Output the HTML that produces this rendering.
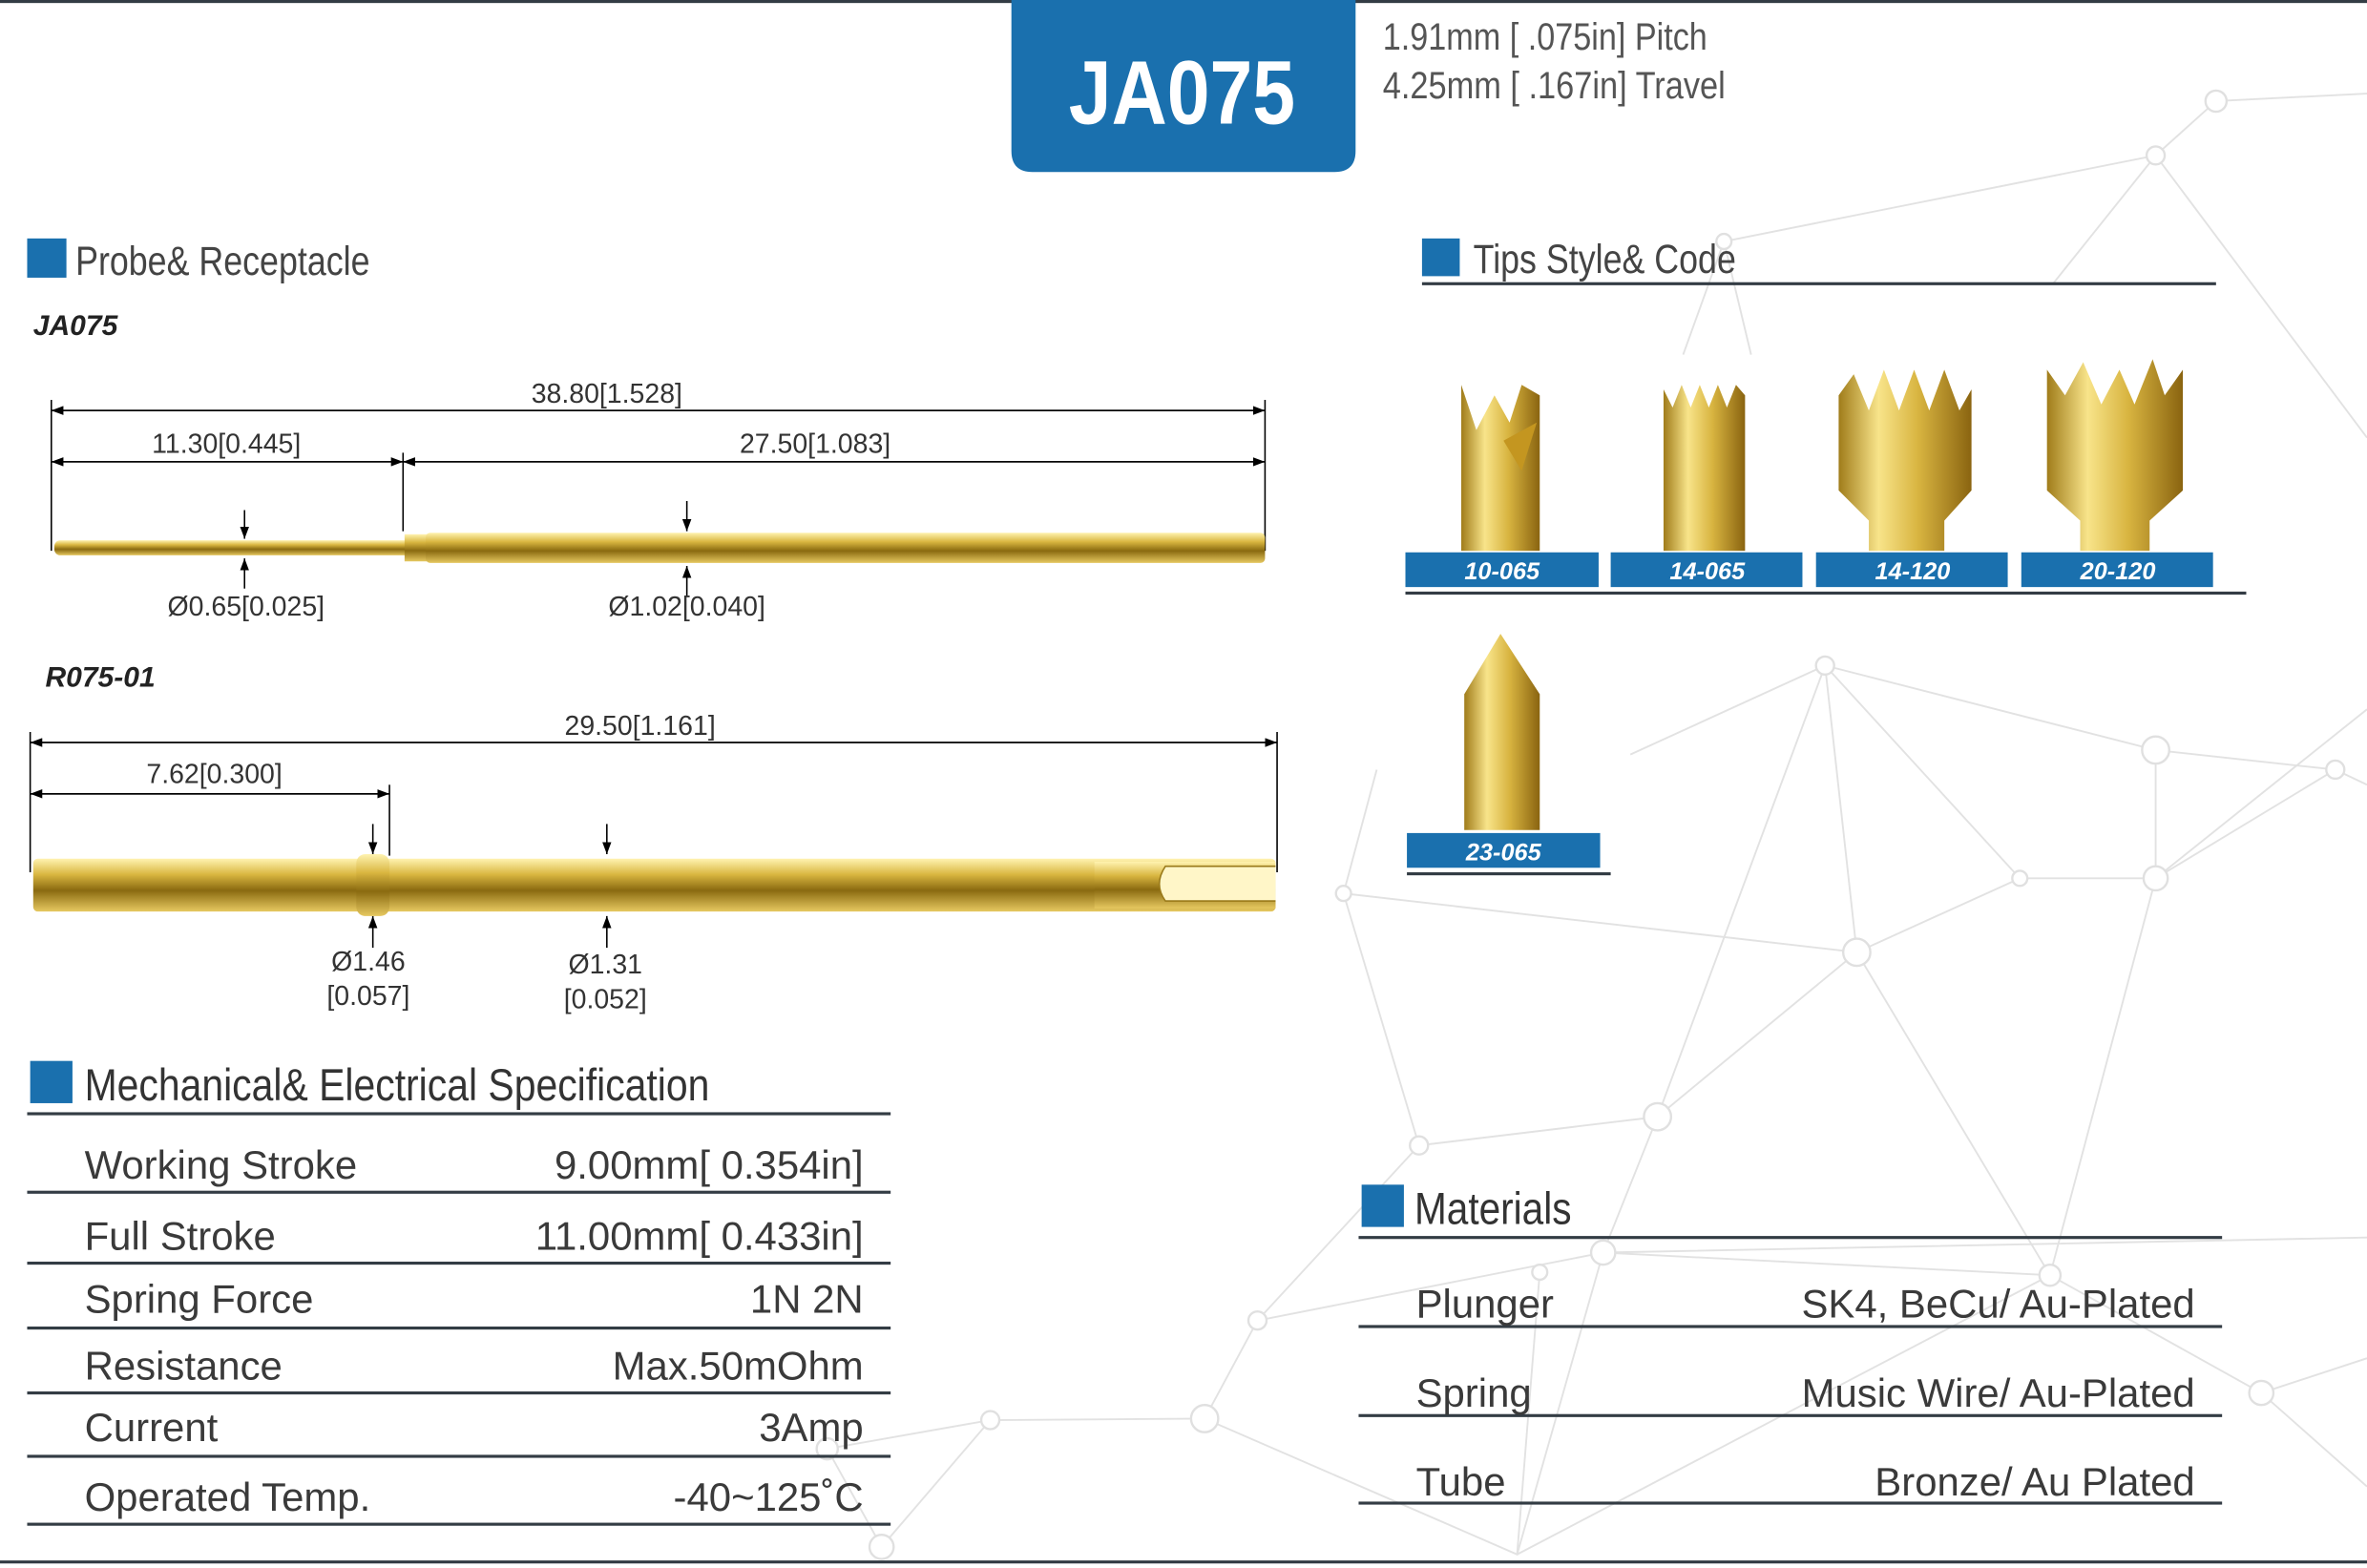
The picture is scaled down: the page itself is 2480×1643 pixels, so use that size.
<!DOCTYPE html>
<html><head><meta charset="utf-8"><style>
html,body{margin:0;padding:0;background:#fff;}
svg{display:block;}
text{font-family:"Liberation Sans",sans-serif;}
.d{font-size:18px;fill:#333;text-anchor:middle;}
.r{font-size:26.5px;fill:#3a3a3a;}
.h{font-size:30px;fill:#333;}
.bl{font-size:16px;font-weight:bold;font-style:italic;fill:#fff;text-anchor:middle;}
</style></head><body>
<svg width="2480" height="1643" viewBox="0 0 1568 1039" preserveAspectRatio="none" xmlns="http://www.w3.org/2000/svg">
<defs>
<linearGradient id="g" x1="0" y1="0" x2="0" y2="1">
<stop offset="0" stop-color="#fff3b0"/><stop offset="0.3" stop-color="#d9b640"/><stop offset="0.6" stop-color="#8a6a10"/><stop offset="1" stop-color="#e6c860"/></linearGradient>
<linearGradient id="gv" x1="0" y1="0" x2="1" y2="0">
<stop offset="0" stop-color="#a07c1a"/><stop offset="0.3" stop-color="#f8e48a"/><stop offset="0.6" stop-color="#d8b440"/><stop offset="1" stop-color="#8a6410"/></linearGradient>
<marker id="a" markerWidth="8" markerHeight="6" refX="8" refY="3" orient="auto" markerUnits="userSpaceOnUse"><path d="M0,0L8,3L0,6z" fill="#000"/></marker>
</defs>
<g stroke="#e2e2e2" stroke-width="1.2" fill="none">
<path d="M1468,67L1568,62M1468,67L1428,103L1142,160M1428,103L1360,188M1428,103L1568,290M1142,160L1115,235M1142,160L1160,235M1209,441L1428,497L1547,510L1568,520M1209,441L1080,500M1209,441L1338,582L1428,582L1547,510M1428,497L1428,582M1209,441L1230,631L1338,582M1230,631L1098,740L940,759L890,592L1230,631M1098,740L1062,830L1358,845L1498,923L1568,900M1230,631L1358,845M1428,582L1358,845M1062,830L833,875L798,940L656,941L548,960L584,1025M833,875L940,759M798,940L1005,1030L1062,830M1358,845L1005,1030M1498,923L1568,985M890,592L912,510M1098,740L1209,441M656,941L584,1025M1020,843L1005,1030M1428,582L1568,470M1062,830L1568,820"/>
</g>
<g fill="#fff" stroke="#e0e0e0" stroke-width="1.5">
<circle cx="1468" cy="67" r="7"/><circle cx="1428" cy="103" r="6"/><circle cx="1142" cy="160" r="5"/><circle cx="1209" cy="441" r="6"/><circle cx="1428" cy="497" r="9"/><circle cx="1547" cy="510" r="6"/><circle cx="1338" cy="582" r="5"/><circle cx="1428" cy="582" r="8"/><circle cx="1230" cy="631" r="9"/><circle cx="1098" cy="740" r="9"/><circle cx="940" cy="759" r="6"/><circle cx="890" cy="592" r="5"/><circle cx="1062" cy="830" r="8"/><circle cx="1020" cy="843" r="5"/><circle cx="1358" cy="845" r="7"/><circle cx="1498" cy="923" r="8"/><circle cx="833" cy="875" r="6"/><circle cx="798" cy="940" r="9"/><circle cx="656" cy="941" r="6"/><circle cx="548" cy="960" r="7"/><circle cx="584" cy="1025" r="8"/>
</g>
<rect x="0" y="0" width="1568" height="2" fill="#333c44"/>
<rect x="0" y="1034" width="1568" height="2" fill="#333c44"/>
<path d="M670,0H898V100Q898,114 884,114H684Q670,114 670,100Z" fill="#1a70ae"/>
<text x="708" y="82" font-size="60" font-weight="bold" fill="#fff" textLength="150" lengthAdjust="spacingAndGlyphs">JA075</text>
<text x="916" y="33" font-size="25" fill="#555" textLength="215" lengthAdjust="spacingAndGlyphs">1.91mm [ .075in] Pitch</text>
<text x="916" y="65" font-size="25" fill="#555" textLength="227" lengthAdjust="spacingAndGlyphs">4.25mm [ .167in] Travel</text>
<rect x="18" y="158" width="26" height="26" fill="#1a70ae"/>
<text x="50" y="182" font-size="27" fill="#444" textLength="195" lengthAdjust="spacingAndGlyphs">Probe&amp; Receptacle</text>
<text x="22" y="222" font-size="19" font-weight="bold" font-style="italic" fill="#222">JA075</text>
<g stroke="#000" stroke-width="1">
<line x1="34" y1="265" x2="34" y2="365"/><line x1="267" y1="300" x2="267" y2="352"/><line x1="838" y1="265" x2="838" y2="365"/>
<line x1="34" y1="272" x2="838" y2="272" marker-end="url(#a)"/><line x1="838" y1="272" x2="34" y2="272" marker-end="url(#a)"/>
<line x1="34" y1="306" x2="267" y2="306" marker-end="url(#a)"/><line x1="267" y1="306" x2="34" y2="306" marker-end="url(#a)"/>
<line x1="267" y1="306" x2="838" y2="306" marker-end="url(#a)"/><line x1="838" y1="306" x2="267" y2="306" marker-end="url(#a)"/>
<line x1="162" y1="338" x2="162" y2="357" marker-end="url(#a)"/><line x1="162" y1="390" x2="162" y2="370" marker-end="url(#a)"/>
<line x1="455" y1="332" x2="455" y2="352" marker-end="url(#a)"/><line x1="455" y1="395" x2="455" y2="375" marker-end="url(#a)"/>
</g>
<text class="d" x="402" y="267">38.80[1.528]</text>
<text class="d" x="150" y="300">11.30[0.445]</text>
<text class="d" x="540" y="300">27.50[1.083]</text>
<text class="d" x="163" y="408">Ø0.65[0.025]</text>
<text class="d" x="455" y="408">Ø1.02[0.040]</text>
<rect x="36" y="358" width="236" height="10" rx="4" fill="url(#g)"/>
<rect x="268" y="354" width="16" height="18" fill="url(#g)"/>
<rect x="282" y="353" width="556" height="20" rx="3" fill="url(#g)"/>
<text x="30" y="455" font-size="19" font-weight="bold" font-style="italic" fill="#222">R075-01</text>
<g stroke="#000" stroke-width="1">
<line x1="20" y1="485" x2="20" y2="578"/><line x1="258" y1="520" x2="258" y2="567"/><line x1="846" y1="485" x2="846" y2="578"/>
<line x1="20" y1="492" x2="846" y2="492" marker-end="url(#a)"/><line x1="846" y1="492" x2="20" y2="492" marker-end="url(#a)"/>
<line x1="20" y1="526" x2="258" y2="526" marker-end="url(#a)"/><line x1="258" y1="526" x2="20" y2="526" marker-end="url(#a)"/>
<line x1="247" y1="546" x2="247" y2="566" marker-end="url(#a)"/><line x1="247" y1="628" x2="247" y2="607" marker-end="url(#a)"/>
<line x1="402" y1="546" x2="402" y2="566" marker-end="url(#a)"/><line x1="402" y1="628" x2="402" y2="607" marker-end="url(#a)"/>
</g>
<text class="d" x="424" y="487">29.50[1.161]</text>
<text class="d" x="142" y="519">7.62[0.300]</text>
<text class="d" x="244" y="643">Ø1.46</text><text class="d" x="244" y="666">[0.057]</text>
<text class="d" x="401" y="645">Ø1.31</text><text class="d" x="401" y="668">[0.052]</text>
<rect x="22" y="569" width="823" height="35" rx="3" fill="url(#g)"/>
<rect x="236" y="566" width="22" height="41" rx="6" fill="url(#g)"/>
<rect x="725" y="571" width="120" height="31" fill="url(#g)"/>
<path d="M845,574H772Q764,586 772,597H845" fill="#fff6c8" stroke="#9a7a1a" stroke-width="1"/>
<rect x="20" y="703" width="28" height="28" fill="#1a70ae"/>
<text x="56" y="729" class="h" textLength="414" lengthAdjust="spacingAndGlyphs">Mechanical&amp; Electrical Specification</text>
<g fill="#333c44"><rect x="18" y="737" width="572" height="2"/><rect x="18" y="789" width="572" height="2"/><rect x="18" y="836" width="572" height="2"/><rect x="18" y="879" width="572" height="2"/><rect x="18" y="922" width="572" height="2"/><rect x="18" y="964" width="572" height="2"/><rect x="18" y="1009" width="572" height="2"/></g>
<text class="r" x="56" y="781">Working Stroke</text><text class="r" x="572" y="781" text-anchor="end">9.00mm[ 0.354in]</text>
<text class="r" x="56" y="828">Full Stroke</text><text class="r" x="572" y="828" text-anchor="end">11.00mm[ 0.433in]</text>
<text class="r" x="56" y="870">Spring Force</text><text class="r" x="572" y="870" text-anchor="end">1N 2N</text>
<text class="r" x="56" y="914">Resistance</text><text class="r" x="572" y="914" text-anchor="end">Max.50mOhm</text>
<text class="r" x="56" y="955">Current</text><text class="r" x="572" y="955" text-anchor="end">3Amp</text>
<text class="r" x="56" y="1001">Operated Temp.</text><text class="r" x="572" y="1001" text-anchor="end">-40~125˚C</text>
<rect x="942" y="158" width="25" height="25" fill="#1a70ae"/>
<text x="976" y="181" font-size="27" fill="#444" textLength="174" lengthAdjust="spacingAndGlyphs">Tips Style&amp; Code</text>
<rect x="942" y="187" width="526" height="2" fill="#333c44"/>
<g fill="url(#gv)">
<path d="M968,365V255L978,285L990,262L1000,280L1008,255L1020,262V365Z"/>
<path d="M1102,365V258L1108,270L1114,255L1120,270L1126,255L1132,270L1138,255L1144,270L1150,255L1156,262V365Z"/>
<path d="M1238,365V345L1218,325V262L1228,248L1238,272L1248,245L1258,272L1268,245L1278,272L1288,245L1298,272L1306,258V325L1288,345V365Z"/>
<path d="M1378,365V345L1356,325V245L1368,262L1380,240L1392,268L1404,245L1414,268L1426,238L1434,262L1446,245V325L1424,345V365Z"/>
<path d="M970,550V460L994,420L1020,460V550Z"/>
</g>
<path d="M996,292L1018,280L1008,312Z" fill="#c49620"/>
<g fill="#1a70ae"><rect x="931" y="366" width="128" height="23"/><rect x="1067" y="366" width="127" height="23"/><rect x="1203" y="366" width="127" height="23"/><rect x="1339" y="366" width="127" height="23"/><rect x="932" y="552" width="128" height="23"/></g>
<text class="bl" x="995" y="384">10-065</text><text class="bl" x="1131" y="384">14-065</text><text class="bl" x="1267" y="384">14-120</text><text class="bl" x="1403" y="384">20-120</text><text class="bl" x="996" y="570">23-065</text>
<rect x="931" y="392" width="557" height="2" fill="#333c44"/>
<rect x="932" y="578" width="135" height="2" fill="#333c44"/>
<rect x="902" y="785" width="28" height="28" fill="#1a70ae"/>
<text x="937" y="811" class="h" textLength="104" lengthAdjust="spacingAndGlyphs">Materials</text>
<g fill="#333c44"><rect x="900" y="819" width="572" height="2"/><rect x="900" y="878" width="572" height="2"/><rect x="900" y="937" width="572" height="2"/><rect x="900" y="995" width="572" height="2"/></g>
<text class="r" x="938" y="873">Plunger</text><text class="r" x="1454" y="873" text-anchor="end">SK4, BeCu/ Au-Plated</text>
<text class="r" x="938" y="932">Spring</text><text class="r" x="1454" y="932" text-anchor="end">Music Wire/ Au-Plated</text>
<text class="r" x="938" y="991">Tube</text><text class="r" x="1454" y="991" text-anchor="end">Bronze/ Au Plated</text>
</svg>
</body></html>
